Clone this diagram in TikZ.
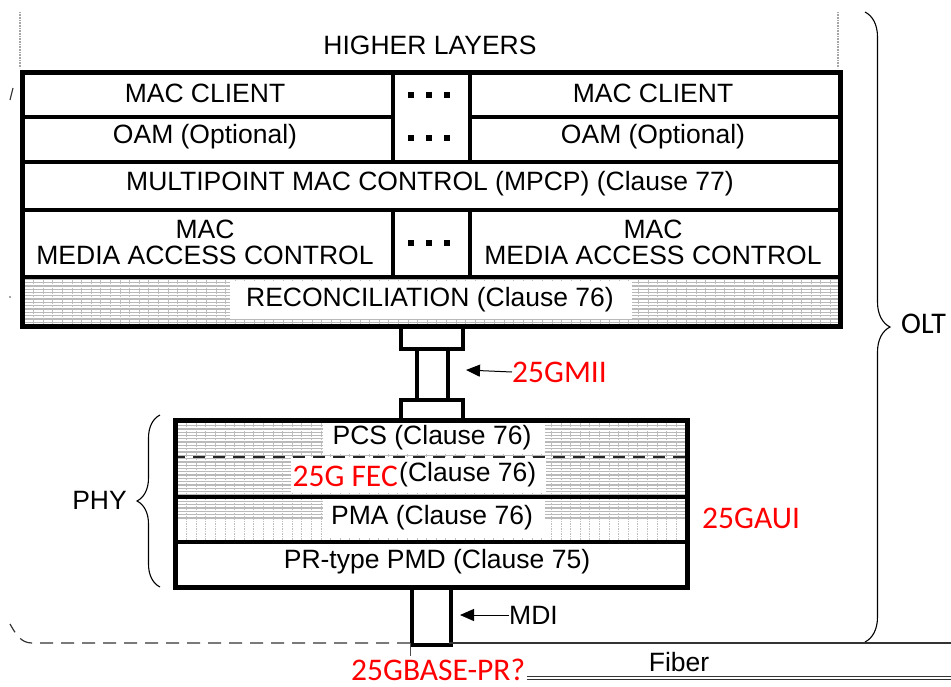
\documentclass[tikz,border=0pt]{standalone}
\usepackage{fontspec}
\setmainfont{Liberation Sans}
\newfontfamily\calfont{Carlito}
\usetikzlibrary{arrows.meta,decorations.pathreplacing}
\newcommand\hatcharea[4]{%
  \begin{scope}
    \clip (#1,#2) rectangle (#3,#4);
    \foreach \k in {0,...,30} \draw[hline] (#1,{#2+1+3.3*\k}) -- (#3,{#2+1+3.3*\k});
    \foreach \k in {0,...,90} \draw[vline] ({#1+4+9.6*\k},#2) -- ({#1+4+9.6*\k},#4);
  \end{scope}}
\newcommand\threedots[2]{%
  \foreach \dx in {-18,0,18} \fill ({#1+\dx-3},{#2-3}) rectangle ++(6,6);}
\begin{document}
\begin{tikzpicture}[x=1pt,y=-1pt,
  lbl/.style={font=\fontsize{26.5}{28}\selectfont, inner sep=0pt},
  rlbl/.style={font=\calfont\fontsize{31.5}{33}\selectfont, text=red, inner sep=0pt},
  box/.style={draw, line width=3.5pt, inner sep=0pt, anchor=north west},
  frame/.style={draw, line width=4.5pt, inner sep=0pt, anchor=north west},
  hlt/.style={fill=white, inner sep=0pt},
  hline/.style={gray!55, line width=1.3pt},
  vline/.style={gray!50, line width=1pt, dash pattern=on 1.5pt off 1pt},
  tipline/.style={-{Triangle[length=14pt,width=12pt]}, line width=1pt},
  thinline/.style={line width=1.2pt, black!80},
  dotv/.style={gray!70, line width=1.6pt, dash pattern=on 1pt off 0.6pt},
]
\useasboundingbox (0,0) rectangle (951,686);

% patterns
\hatcharea{20}{275}{838}{324}
\hatcharea{173}{418}{685}{540}

% dotted verticals above
\coordinate (dl1) at (20,12); \coordinate (dl2) at (20,68);
\coordinate (dr1) at (838,12); \coordinate (dr2) at (838,68);
\draw[dotv] (dl1) -- (dl2);
\draw[dotv] (dr1) -- (dr2);
\node[lbl] (higher) at (430,45) {HIGHER LAYERS};

% top block
\node[box, minimum width=371pt, minimum height=45pt] (mc1) at (20,70) {};
\node[box, minimum width=370pt, minimum height=45pt] (mc2) at (468,70) {};
\node[lbl] (mc1t) at (205,93) {MAC CLIENT};
\node[lbl] (mc2t) at (653,93) {MAC CLIENT};
\threedots{429}{95}
\node[box, minimum width=371pt, minimum height=45pt] (oam1) at (20,115) {};
\node[box, minimum width=370pt, minimum height=45pt] (oam2) at (468,115) {};
\node[lbl] (oam1t) at (205,137) {OAM (Optional)};
\node[lbl] (oam2t) at (653,137) {OAM (Optional)};
\threedots{429}{138}
\node[box, minimum width=818pt, minimum height=48pt] (mpcp) at (20,160) {};
\node[lbl] (mpcpt) at (430,184) {MULTIPOINT MAC CONTROL (MPCP) (Clause 77)};
\node[box, minimum width=371pt, minimum height=67pt] (mac1) at (20,208) {};
\node[box, minimum width=77pt, minimum height=67pt] (macd) at (391,208) {};
\node[box, minimum width=370pt, minimum height=67pt] (mac2) at (468,208) {};
\node[lbl, align=center] (mac1t) at (205,242) {MAC\\[-2pt]MEDIA ACCESS CONTROL};
\node[lbl, align=center] (mac2t) at (653,242) {MAC\\[-2pt]MEDIA ACCESS CONTROL};
\threedots{429}{243}
\node[hlt, minimum width=402pt, minimum height=38pt] (reconbg) at (431,300) {};
\node[lbl] (recont) at (430,300) {RECONCILIATION (Clause 76)};
\node[box, minimum width=818pt, minimum height=49pt] (recon) at (20,275) {};
\node[frame, minimum width=818pt, minimum height=254pt] (upper) at (20,70) {};

% 25GMII interface
\node[box, minimum width=62pt, minimum height=23pt] (g1) at (399,324) {};
\node[box, minimum width=31pt, minimum height=51pt] (gs) at (415,347) {};
\node[box, minimum width=62pt, minimum height=22pt] (g2) at (399,398) {};
\node[rlbl, anchor=west] (gmii) at (512,372) {25GMII};
\coordinate (gmiitip) at (466,370);
\draw[tipline] (gmii.west) -- (gmiitip);

% PHY block
\draw[line width=1.2pt, black!85, dash pattern=on 12pt off 8pt] (173,457) -- (685,457);
\node[hlt, minimum width=222pt, minimum height=33pt] (pcsbg) at (434,437) {};
\node[lbl] (pcst) at (432,438) {PCS (Clause 76)};
\node[hlt, minimum width=255pt, minimum height=35pt] (fecbg) at (418,475) {};
\node[rlbl, anchor=east] (fec) at (398,476) {25G FEC};
\node[lbl, anchor=west] (fect) at (399,475) {(Clause 76)};
\node[hlt, minimum width=222pt, minimum height=38pt] (pmabg) at (434,518) {};
\node[lbl] (pmat) at (432,518) {PMA (Clause 76)};
\node[lbl] (pmdt) at (437,562) {PR-type PMD (Clause 75)};
\node[box, minimum width=512pt, minimum height=77pt] (pcs) at (173,418) {};
\node[box, minimum width=512pt, minimum height=45pt] (pma) at (173,495) {};
\node[box, minimum width=512pt, minimum height=45pt] (pmd) at (173,540) {};
\node[frame, minimum width=512pt, minimum height=167pt] (phy) at (173,418) {};
\node[rlbl, anchor=west] (gaui) at (702,518) {25GAUI};

% PHY brace
\coordinate (pb1) at (160,587); \coordinate (pb2) at (160,415);
\draw[decorate, decoration={brace, amplitude=23pt}, line width=1.1pt] (pb1) -- (pb2);
\node[lbl, anchor=east] (phyt) at (127,500) {PHY};

% OLT brace
\coordinate (ob1) at (865,12); \coordinate (ob2) at (865,642);
\draw[decorate, decoration={brace, amplitude=25pt}, line width=1.1pt] (ob1) -- (ob2);
\node[rlbl, text=black, font=\calfont\fontsize{30}{32}\selectfont, anchor=west] (olt) at (901,324) {OLT};

% MDI
\node[box, minimum width=39pt, minimum height=58pt] (mdi) at (410,585) {};
\node[lbl, anchor=west] (mdit) at (509,615) {MDI};
\coordinate (mditip) at (460,615);
\draw[tipline] (mdit.west) -- (mditip);

% bottom lines
\coordinate (fl1) at (449,643); \coordinate (fr1) at (951,643);
\draw[thinline] (fl1) -- (fr1);
\coordinate (dsh1) at (410,643); \coordinate (dsh2) at (32,643); \coordinate (dsh3) at (10,624);
\draw[thinline, dash pattern=on 13pt off 8pt] (dsh1) -- (dsh2) to[out=180, in=-60] (dsh3);
\coordinate (vs1) at (410,656);
\draw[line width=1pt, black!70] (dsh1) -- (vs1);
\node[lbl] (fiber) at (679,662) {Fiber};
\node[rlbl, anchor=base west] (pr) at (351,680) {25GBASE-PR?};
\coordinate (lowA1) at (527,676.5); \coordinate (lowA2) at (951,676.5);
\coordinate (lowB1) at (527,679.5); \coordinate (lowB2) at (951,679.5);
\draw[line width=0.9pt, black!80] (lowA1) -- (lowA2);
\draw[line width=0.9pt, black!80] (lowB1) -- (lowB2);

% small marks at left edge
\coordinate (m1) at (10,100); \coordinate (m2) at (13,88);
\draw[line width=1.2pt, black!80] (m1) -- (m2);
\coordinate (m3) at (10,297);
\fill[black!70] (m3) circle (0.8);
\end{tikzpicture}
\end{document}
